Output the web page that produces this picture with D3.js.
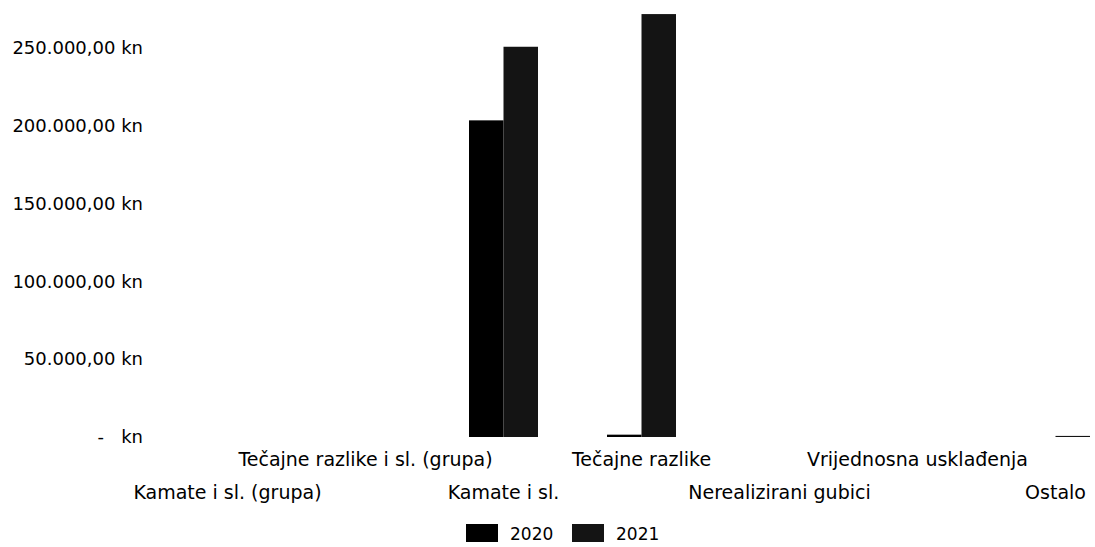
<!DOCTYPE html>
<html lang="hr">
<head>
  <meta charset="UTF-8">
  <title>Rashodi</title>
  <script src="https://d3js.org/d3.v7.min.js"></script>
  <style>
    body {
      margin: 0;
      background: #fff;
    }
    svg text {
      fill: #000;
      font-family: 'DejaVu Sans', Verdana, sans-serif;
    }
    .yaxis text {
      font-size: 18px;
      white-space: pre;
    }
    .xaxis text {
      font-size: 19px;
    }
    .legend text {
      font-size: 17px;
    }
  </style>
</head>
<body>
  <svg id="chart" width="1095" height="547"></svg>

  <script>
    const categories = [
      "Kamate i sl. (grupa)",
      "Tečajne razlike i sl. (grupa)",
      "Kamate i sl.",
      "Tečajne razlike",
      "Nerealizirani gubici",
      "Vrijednosna usklađenja",
      "Ostalo"
    ];
    const years = ["2020", "2021"];
    const values2020 = [0, 0, 203500, 1500, 0, 0, 0];
    const values2021 = [0, 0, 250800, 271800, 0, 0, 700];
    const yTicks = [0, 50000, 100000, 150000, 200000, 250000];

    const colors = {"2020": "#000000", "2021": "#141414"};

    const svg = d3.select("#chart");

    const x0 = d3.scaleBand()
      .domain(categories)
      .range([158.5, 1124.5])
      .paddingInner(0.5)
      .paddingOuter(0.25);

    const x1 = d3.scaleBand()
      .domain(years)
      .range([0, x0.bandwidth()]);

    const y = d3.scaleLinear()
      .domain([0, 250000])
      .range([437, 48]);

    const data = categories.map((c, i) => ({
      cat: c,
      vals: [
        {year: "2020", v: values2020[i]},
        {year: "2021", v: values2021[i]}
      ]
    }));

    // bars
    svg.append("g")
      .selectAll("g")
      .data(data)
      .enter().append("g")
      .attr("transform", d => "translate(" + x0(d.cat) + ",0)")
      .selectAll("rect")
      .data(d => d.vals.filter(v => v.v > 0))
      .enter().append("rect")
      .attr("x", d => x1(d.year))
      .attr("y", d => y(d.v))
      .attr("width", x1.bandwidth())
      .attr("height", d => y(0) - y(d.v))
      .attr("fill", d => colors[d.year]);

    // y axis, accounting style labels
    const fmt = d3.formatLocale({decimal: ",", thousands: ".", grouping: [3], currency: ["", ""]}).format(",.2f");
    const yAxis = d3.axisLeft(y)
      .tickValues(yTicks)
      .tickSize(0)
      .tickPadding(0)
      .tickFormat(d => d === 0 ? "-   kn" : fmt(d) + " kn");

    svg.append("g")
      .attr("class", "yaxis")
      .attr("transform", "translate(143,0)")
      .call(yAxis)
      .call(g => g.select(".domain").remove());

    // x axis, labels staggered in two rows (Excel style)
    const xAxis = d3.axisBottom(x0).tickSize(0).tickPadding(0);
    svg.append("g")
      .attr("class", "xaxis")
      .call(xAxis)
      .call(g => g.select(".domain").remove())
      .selectAll("text")
      .attr("y", (d, i) => i % 2 === 0 ? 499 : 466)
      .attr("dy", null);

    // legend
    const legend = svg.append("g")
      .attr("class", "legend")
      .attr("transform", "translate(466,524)");

    const items = legend.selectAll("g")
      .data(years)
      .enter().append("g")
      .attr("transform", (d, i) => "translate(" + (i * 106) + ",0)");

    items.append("rect")
      .attr("width", 32)
      .attr("height", 18)
      .attr("fill", d => colors[d]);

    items.append("text")
      .attr("x", 44)
      .attr("y", 10)
      .attr("dy", "0.35em")
      .text(d => d);
  </script>
</body>
</html>
